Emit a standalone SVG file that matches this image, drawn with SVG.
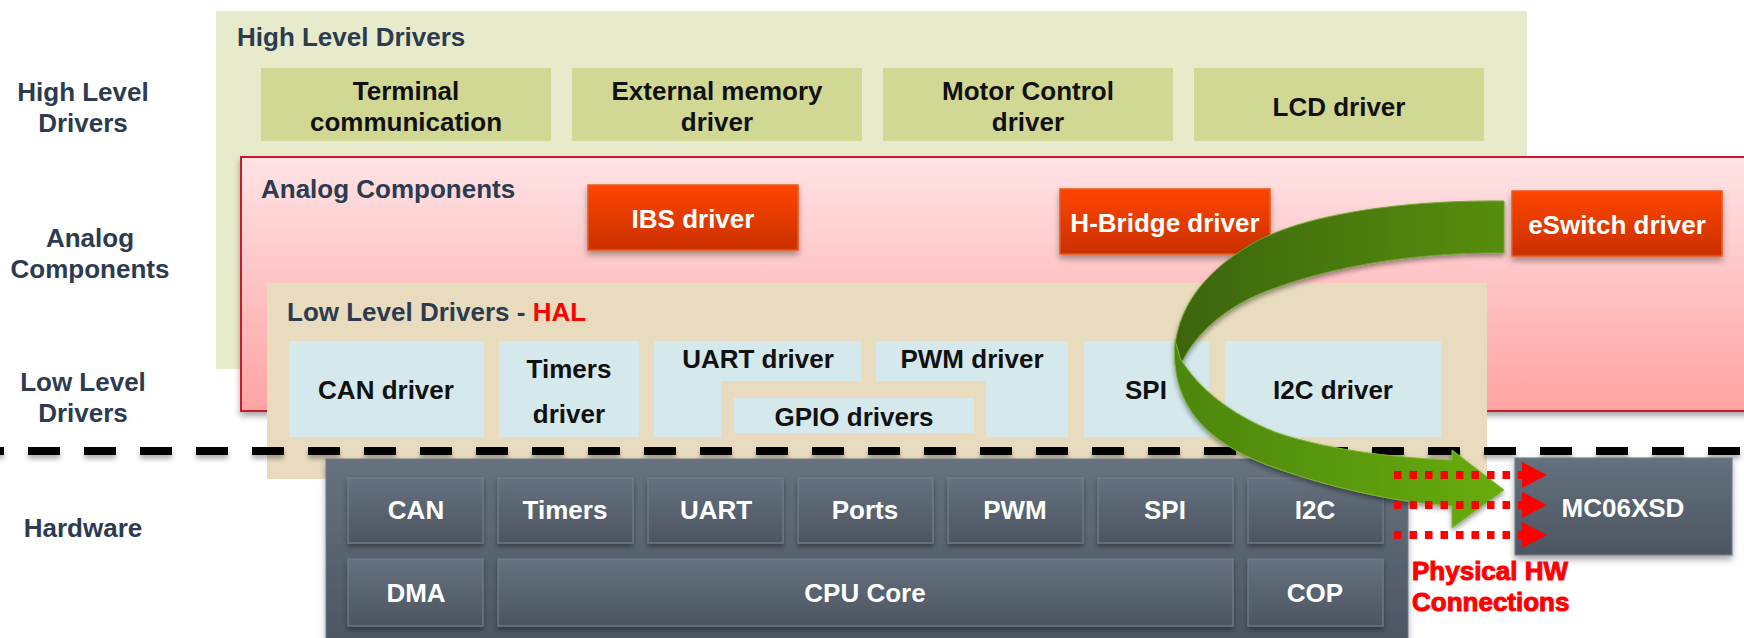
<svg xmlns="http://www.w3.org/2000/svg" width="1744" height="638" viewBox="0 0 1744 638">
<defs>
<style>
text{font-family:"Liberation Sans",Arial,sans-serif;font-weight:bold;font-size:26px}
.lbl{fill:#2C3B50;text-anchor:middle}
.ttl{fill:#2C3B50}
.dk{fill:#111;text-anchor:middle}
.wt{fill:#fff;text-anchor:middle}
.hl{fill:#D1D893}
.ll{fill:#D5E8EC}
.org{fill:url(#gOrg);stroke:#E8581E;stroke-width:1.5;filter:url(#sh)}
.cell{fill:url(#gCell);stroke:#737E8B;stroke-width:1.2;filter:url(#sh2)}
.dot{stroke:#FF0000;stroke-width:8;stroke-dasharray:7.5 8;fill:none}
</style>
<linearGradient id="gAna" x1="0" y1="0" x2="0" y2="1"><stop offset="0" stop-color="#FFE3E5"/><stop offset="1" stop-color="#FFA3A3"/></linearGradient>
<linearGradient id="gOrg" x1="0" y1="0" x2="0" y2="1"><stop offset="0" stop-color="#FF4500"/><stop offset="1" stop-color="#C93000"/></linearGradient>
<linearGradient id="gHw" x1="0" y1="0" x2="0" y2="1"><stop offset="0" stop-color="#66727F"/><stop offset="1" stop-color="#4B5462"/></linearGradient>
<linearGradient id="gCell" x1="0" y1="0" x2="0" y2="1"><stop offset="0" stop-color="#65717F"/><stop offset="1" stop-color="#4C5562"/></linearGradient>
<linearGradient id="gUp" gradientUnits="userSpaceOnUse" x1="1504" y1="0" x2="1175" y2="0"><stop offset="0" stop-color="#568E0E"/><stop offset="1" stop-color="#3C6509"/></linearGradient>
<linearGradient id="gLo" gradientUnits="userSpaceOnUse" x1="1175" y1="0" x2="1504" y2="0"><stop offset="0" stop-color="#4C8610"/><stop offset="1" stop-color="#68AC0A"/></linearGradient>
<filter id="sh" x="-10%" y="-20%" width="120%" height="150%"><feDropShadow dx="0" dy="4" stdDeviation="3" flood-color="#000" flood-opacity="0.35"/></filter>
<filter id="sh2" x="-10%" y="-20%" width="120%" height="150%"><feDropShadow dx="0" dy="3" stdDeviation="2.5" flood-color="#000" flood-opacity="0.4"/></filter>
<filter id="sh3" filterUnits="userSpaceOnUse" x="-40" y="430" width="1830" height="50"><feDropShadow dx="0" dy="4" stdDeviation="2.5" flood-color="#000" flood-opacity="0.3"/></filter>
<marker id="ah" markerUnits="userSpaceOnUse" markerWidth="26" markerHeight="28" refX="0" refY="13" orient="auto"><path d="M0,0 L25,13 L0,26 Z" fill="#FF0000"/></marker>
</defs>

<rect width="1744" height="638" fill="#fff"/>

<g id="side-labels">
<text class="lbl" x="83" y="101">High Level</text>
<text class="lbl" x="83" y="132">Drivers</text>
<text class="lbl" x="90" y="247">Analog</text>
<text class="lbl" x="90" y="278">Components</text>
<text class="lbl" x="83" y="391">Low Level</text>
<text class="lbl" x="83" y="422">Drivers</text>
<text class="lbl" x="83" y="537">Hardware</text>
</g>

<g id="high-level">
<rect x="216" y="11" width="1311" height="358" fill="#E8EBCB"/>
<text class="ttl" x="237" y="46">High Level Drivers</text>
</g>
<g id="terminal"><rect class="hl" x="261" y="68" width="290" height="73"/><text class="dk" x="406" y="100">Terminal</text><text class="dk" x="406" y="131">communication</text></g>
<g id="extmem"><rect class="hl" x="572" y="68" width="290" height="73"/><text class="dk" x="717" y="100">External memory</text><text class="dk" x="717" y="131">driver</text></g>
<g id="motor"><rect class="hl" x="883" y="68" width="290" height="73"/><text class="dk" x="1028" y="100">Motor Control</text><text class="dk" x="1028" y="131">driver</text></g>
<g id="lcd"><rect class="hl" x="1194" y="68" width="290" height="73"/><text class="dk" x="1339" y="116">LCD driver</text></g>

<g id="analog">
<rect x="241" y="157" width="1515" height="254" fill="url(#gAna)" stroke="#C81E2D" stroke-width="2" filter="url(#sh)"/>
<text class="ttl" x="261" y="198">Analog Components</text>
</g>
<g id="ibs"><rect class="org" x="588" y="185" width="210" height="65"/><text class="wt" x="693" y="228">IBS driver</text></g>
<g id="hbridge"><rect class="org" x="1060" y="189" width="210" height="65"/><text class="wt" x="1165" y="232">H-Bridge driver</text></g>
<g id="eswitch"><rect class="org" x="1512" y="191" width="210" height="65"/><text class="wt" x="1617" y="234">eSwitch driver</text></g>

<g id="low-level">
<rect x="267" y="283" width="1220" height="196" fill="#E9DCBE"/>
<text class="ttl" x="287" y="321">Low Level Drivers - <tspan fill="#FF0000">HAL</tspan></text>
</g>
<g id="can-drv"><rect class="ll" x="289" y="341" width="195" height="96"/><text class="dk" x="386" y="399">CAN driver</text></g>
<g id="timers-drv"><rect class="ll" x="499" y="341" width="140" height="96"/><text class="dk" x="569" y="378">Timers</text><text class="dk" x="569" y="423">driver</text></g>
<g id="uart-drv"><path class="ll" d="M654,341 H861 V381 H721 V437 H654 Z"/><text class="dk" x="758" y="368">UART driver</text></g>
<g id="pwm-drv"><path class="ll" d="M876,341 H1068 V437 H986 V381 H876 Z"/><text class="dk" x="972" y="368">PWM driver</text></g>
<g id="gpio-drv"><rect class="ll" x="734" y="398" width="240" height="35"/><text class="dk" x="854" y="426">GPIO drivers</text></g>
<g id="spi-drv"><rect class="ll" x="1084" y="341" width="125" height="96"/><text class="dk" x="1146" y="399">SPI</text></g>
<g id="i2c-drv"><rect class="ll" x="1225" y="341" width="216" height="96"/><text class="dk" x="1333" y="399">I2C driver</text></g>

<g id="boundary">
<line x1="-28" y1="451" x2="1770" y2="451" stroke="#000" stroke-width="8" stroke-dasharray="32 24" filter="url(#sh3)"/>
</g>

<g id="hardware">
<rect x="326" y="459" width="1082" height="190" fill="url(#gHw)" stroke="#6E7986" stroke-width="1" filter="url(#sh)"/>
</g>
<g id="hw-can"><rect class="cell" x="348" y="478" width="135" height="65"/><text class="wt" x="416" y="519">CAN</text></g>
<g id="hw-timers"><rect class="cell" x="498" y="478" width="135" height="65"/><text class="wt" x="565" y="519">Timers</text></g>
<g id="hw-uart"><rect class="cell" x="648" y="478" width="135" height="65"/><text class="wt" x="716" y="519">UART</text></g>
<g id="hw-ports"><rect class="cell" x="798" y="478" width="135" height="65"/><text class="wt" x="865" y="519">Ports</text></g>
<g id="hw-pwm"><rect class="cell" x="948" y="478" width="135" height="65"/><text class="wt" x="1015" y="519">PWM</text></g>
<g id="hw-spi"><rect class="cell" x="1098" y="478" width="135" height="65"/><text class="wt" x="1165" y="519">SPI</text></g>
<g id="hw-i2c"><rect class="cell" x="1248" y="478" width="135" height="65"/><text class="wt" x="1315" y="519">I2C</text></g>
<g id="hw-dma"><rect class="cell" x="348" y="559" width="135" height="67"/><text class="wt" x="416" y="602">DMA</text></g>
<g id="hw-cpu"><rect class="cell" x="498" y="559" width="735" height="67"/><text class="wt" x="865" y="602">CPU Core</text></g>
<g id="hw-cop"><rect class="cell" x="1248" y="559" width="135" height="67"/><text class="wt" x="1315" y="602">COP</text></g>

<g id="mc06xsd"><rect x="1515" y="458" width="217" height="97" fill="url(#gCell)" stroke="#737E8B" stroke-width="1.2" filter="url(#sh)"/><text class="wt" x="1623" y="517">MC06XSD</text></g>

<g id="connectors">
<g filter="url(#sh2)">
<path d="M1504,201 C1400,200 1300,215 1250,245 C1205,272 1180,305 1175,345 L1175,365 L1182,362 C1195,335 1225,305 1275,288 C1330,268 1410,252 1504,253 Z" fill="url(#gUp)" stroke="#6FA830" stroke-width="1"/>
<path d="M1175,340 C1170,400 1200,440 1270,466 C1330,488 1400,503 1452,506 L1452,528 L1504,490 L1452,450 L1452,460 C1390,458 1320,448 1275,432 C1230,414 1198,388 1180,358 Z" fill="url(#gLo)" stroke="#7CB835" stroke-width="1"/>
</g>
<line class="dot" x1="1394" y1="475" x2="1522" y2="475" marker-end="url(#ah)"/>
<line class="dot" x1="1394" y1="505" x2="1522" y2="505" marker-end="url(#ah)"/>
<line class="dot" x1="1394" y1="535" x2="1522" y2="535" marker-end="url(#ah)"/>
</g>

<g id="phys-label">
<text x="1412" y="580" fill="#FF0000" stroke="#FF0000" stroke-width="1" font-size="25">Physical HW</text>
<text x="1412" y="611" fill="#FF0000" stroke="#FF0000" stroke-width="1" font-size="25">Connections</text>
</g>
</svg>
